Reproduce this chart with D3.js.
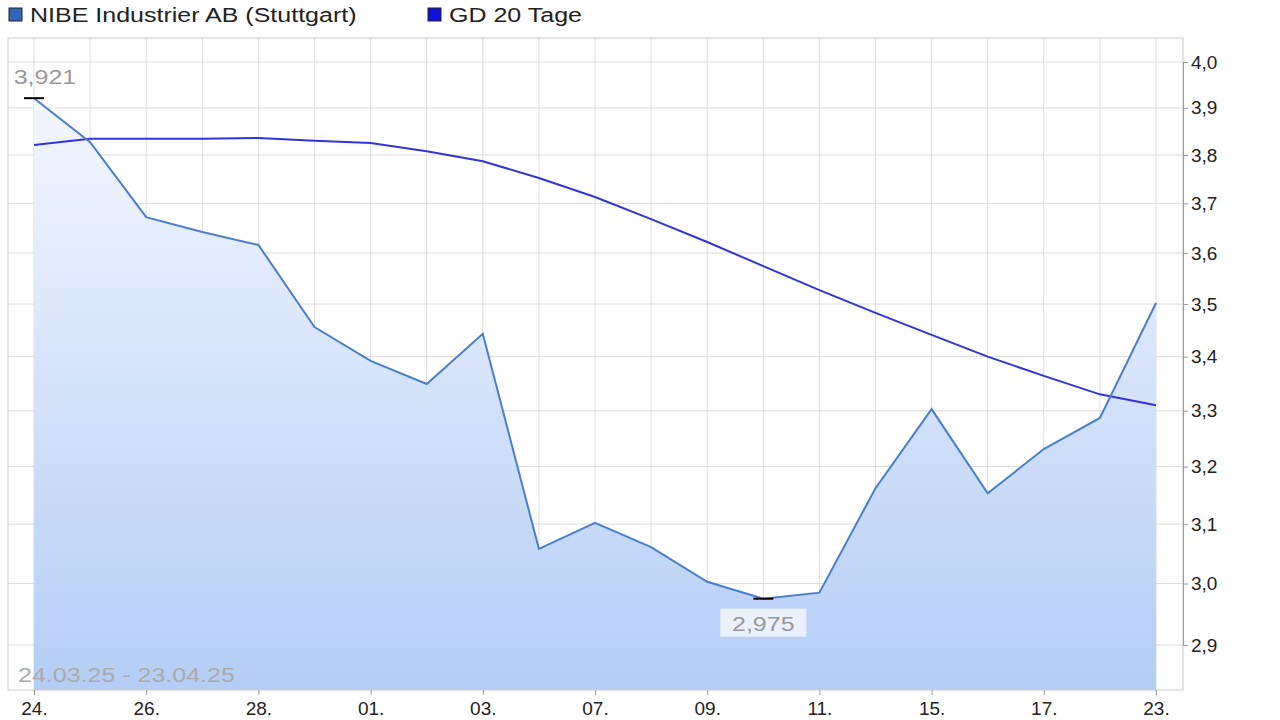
<!DOCTYPE html><html><head><meta charset="utf-8"><script src="https://cdn.jsdelivr.net/npm/d3@7"></script>
<style>body{margin:0;background:#fff;font-family:"Liberation Sans",Arial,sans-serif}</style></head><body><svg id="c" width="1280" height="720"></svg><script>
const dates=["24.","25.","26.","27.","28.","31.","01.","02.","03.","04.","07.","08.","09.","10.","11.","14.","15.","16.","17.","22.","23."];
const price=[3.921,3.827,3.672,3.642,3.616,3.456,3.392,3.349,3.443,3.058,3.102,3.061,3.003,2.975,2.985,3.162,3.303,3.153,3.231,3.287,3.502];
const gd20=[3.821,3.834,3.834,3.834,3.836,3.83,3.825,3.808,3.787,3.752,3.713,3.668,3.622,3.574,3.527,3.483,3.441,3.40,3.364,3.33,3.31];
const yTicks=[2.9,3.0,3.1,3.2,3.3,3.4,3.5,3.6,3.7,3.8,3.9,4.0];
const svg=d3.select("#c");
const L=8,R=1183,T=38,B=690;
const x=d3.scaleLinear().domain([0,20]).range([34,1156]);
const y=d3.scaleLog().domain([2.9,4.0]).range([645,62]);
const fmt=v=>d3.format(".1f")(v).replace(".",",");
const g=svg.append("g");
for(let i=0;i<=20;i++)g.append("line").attr("x1",x(i)).attr("x2",x(i)).attr("y1",T).attr("y2",B).attr("stroke","#dcdcdc");
yTicks.forEach(t=>g.append("line").attr("x1",L).attr("x2",R).attr("y1",y(t)).attr("y2",y(t)).attr("stroke","#dcdcdc"));
const defs=svg.append("defs");const gr=defs.append("linearGradient").attr("id","gr").attr("x1",0).attr("x2",0).attr("y1",0).attr("y2",1);
gr.append("stop").attr("offset","0").attr("stop-color","#f3f7fe");gr.append("stop").attr("offset","1").attr("stop-color","#b5cdf5");
svg.append("path").datum(price).attr("fill","url(#gr)").attr("d",d3.area().x((d,i)=>x(i)).y0(B).y1(d=>y(d)));
svg.append("path").datum(gd20).attr("fill","none").attr("stroke","#3333dd").attr("stroke-width",2).attr("d",d3.line().x((d,i)=>x(i)).y(d=>y(d)));
svg.append("path").datum(price).attr("fill","none").attr("stroke","#4a7fcc").attr("stroke-width",2).attr("d",d3.line().x((d,i)=>x(i)).y(d=>y(d)));
svg.append("rect").attr("x",L).attr("y",T).attr("width",R-L).attr("height",B-T).attr("fill","none").attr("stroke","#ccc");
const ya=svg.append("g").attr("transform",`translate(${R},0)`).call(d3.axisRight(y).tickValues(yTicks).tickFormat(fmt).tickSize(5));
ya.select(".domain").attr("stroke","#999");ya.selectAll("line").attr("stroke","#999");ya.selectAll("text").attr("font-size",19).attr("fill","#222").attr("font-family","Liberation Sans, Arial");
const xa=svg.append("g").attr("transform",`translate(0,${B})`).call(d3.axisBottom(x).tickValues(d3.range(0,21,2)).tickFormat(i=>dates[i]).tickSize(5));
xa.select(".domain").remove();xa.selectAll("line").attr("stroke","#999");xa.selectAll("text").attr("font-size",19).attr("fill","#222").attr("font-family","Liberation Sans, Arial").attr("dy","0.9em");
[[0,"3,921",-14],[13,"2,975",32]].forEach(([i,t,dy])=>{
 svg.append("line").attr("x1",x(i)-10).attr("x2",x(i)+10).attr("y1",y(price[i])).attr("y2",y(price[i])).attr("stroke","#000").attr("stroke-width",2);
 if(dy>0)svg.append("rect").attr("x",x(i)-43).attr("y",y(price[i])+10).attr("width",86).attr("height",28).attr("fill","#fff").attr("opacity",0.7);
 svg.append("text").attr("class","w").attr("x",i==0?x(i)+11:x(i)).attr("y",y(price[i])+dy).attr("text-anchor","middle").attr("font-size",20).attr("fill","#999").text(t);
});
svg.append("text").attr("class","w").attr("x",18).attr("y",682).attr("font-size",20).attr("fill","#aaa").text("24.03.25 - 23.04.25");
[[8,"#3366bb","NIBE Industrier AB (Stuttgart)"],[427,"#1111dd","GD 20 Tage"]].forEach(([lx,c,t])=>{
 svg.append("rect").attr("x",lx+1).attr("y",8).attr("width",13).attr("height",13).attr("fill",c).attr("stroke","#223");
 svg.append("text").attr("class","w").attr("x",lx+22).attr("y",22).attr("font-size",20).attr("fill","#222").text(t);
});
svg.selectAll("text.w").each(function(){const w=this.getComputedTextLength();d3.select(this).attr("textLength",w*1.25).attr("lengthAdjust","spacingAndGlyphs");});
</script></body></html>
